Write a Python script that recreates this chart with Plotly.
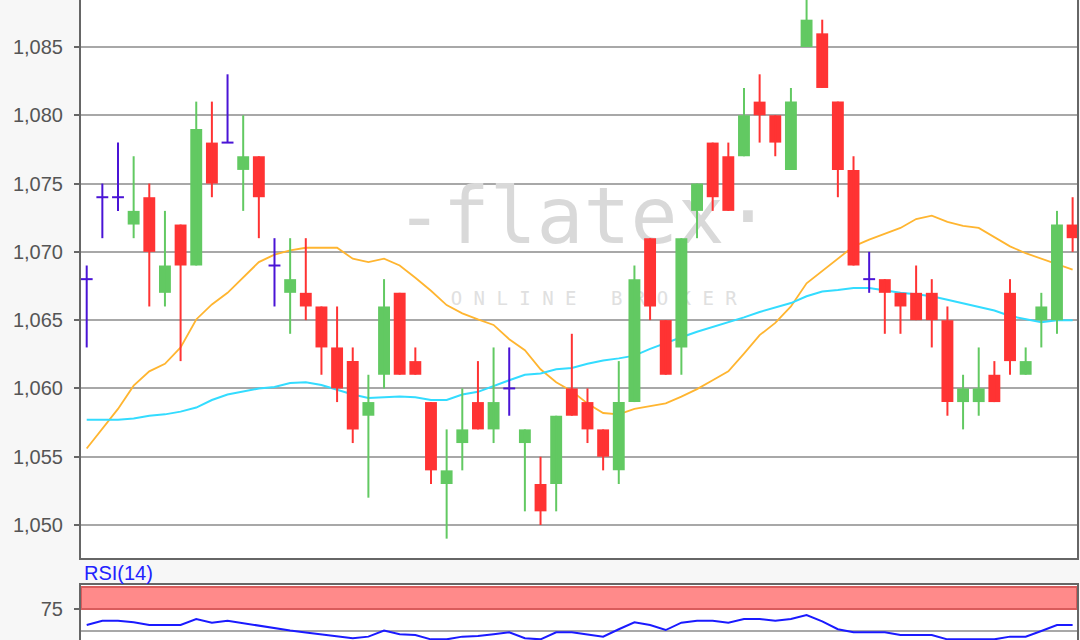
import plotly.graph_objects as go

# ---------------- data ----------------
opens  = [1.068, 1.074, 1.074, 1.072, 1.074, 1.067, 1.072, 1.069, 1.078, 1.078,
          1.076, 1.077, 1.069, 1.067, 1.067, 1.066, 1.063, 1.062, 1.058, 1.061,
          1.067, 1.062, 1.059, 1.053, 1.056, 1.059, 1.057, 1.060, 1.056, 1.053,
          1.053, 1.060, 1.059, 1.057, 1.054, 1.059, 1.071, 1.065, 1.063, 1.073,
          1.078, 1.077, 1.077, 1.081, 1.080, 1.076, 1.085, 1.086, 1.081, 1.076,
          1.068, 1.068, 1.067, 1.067, 1.067, 1.065, 1.059, 1.059, 1.061, 1.067,
          1.061, 1.065, 1.065, 1.072]
highs  = [1.069, 1.075, 1.078, 1.077, 1.075, 1.073, 1.072, 1.081, 1.081, 1.083,
          1.080, 1.077, 1.071, 1.071, 1.071, 1.066, 1.066, 1.063, 1.061, 1.068,
          1.067, 1.063, 1.059, 1.057, 1.060, 1.062, 1.063, 1.063, 1.057, 1.055,
          1.058, 1.064, 1.060, 1.057, 1.062, 1.069, 1.071, 1.065, 1.071, 1.075,
          1.078, 1.078, 1.082, 1.083, 1.080, 1.082, 1.089, 1.087, 1.081, 1.077,
          1.070, 1.068, 1.067, 1.069, 1.068, 1.066, 1.061, 1.063, 1.062, 1.068,
          1.063, 1.067, 1.073, 1.074]
lows   = [1.063, 1.071, 1.073, 1.071, 1.066, 1.066, 1.062, 1.069, 1.074, 1.078,
          1.073, 1.071, 1.066, 1.064, 1.065, 1.061, 1.059, 1.056, 1.052, 1.060,
          1.061, 1.061, 1.053, 1.049, 1.054, 1.057, 1.056, 1.058, 1.051, 1.050,
          1.051, 1.058, 1.056, 1.054, 1.053, 1.059, 1.065, 1.061, 1.061, 1.071,
          1.073, 1.073, 1.077, 1.078, 1.077, 1.076, 1.085, 1.082, 1.074, 1.069,
          1.067, 1.064, 1.064, 1.065, 1.063, 1.058, 1.057, 1.058, 1.059, 1.061,
          1.061, 1.063, 1.064, 1.070]
closes = [1.068, 1.074, 1.074, 1.073, 1.070, 1.069, 1.069, 1.079, 1.075, 1.078,
          1.077, 1.074, 1.069, 1.068, 1.066, 1.063, 1.060, 1.057, 1.059, 1.066,
          1.061, 1.061, 1.054, 1.054, 1.057, 1.057, 1.059, 1.060, 1.057, 1.051,
          1.058, 1.058, 1.057, 1.055, 1.059, 1.068, 1.066, 1.061, 1.071, 1.075,
          1.074, 1.073, 1.080, 1.080, 1.078, 1.081, 1.087, 1.082, 1.076, 1.069,
          1.068, 1.067, 1.066, 1.065, 1.065, 1.059, 1.060, 1.060, 1.059, 1.062,
          1.062, 1.066, 1.072, 1.071]

ma_fast = [1.05560, 1.05705, 1.05850, 1.06020, 1.06125, 1.06180, 1.06300, 1.06505, 1.06615, 1.06700,
           1.06810, 1.06925, 1.06980, 1.07010, 1.07030, 1.07030, 1.07030, 1.06950, 1.06925, 1.06950,
           1.06900, 1.06810, 1.06715, 1.06610, 1.06550, 1.06505, 1.06465, 1.06360, 1.06280, 1.06140,
           1.06045, 1.05980, 1.05890, 1.05820, 1.05810, 1.05850, 1.05870, 1.05890, 1.05940, 1.05995,
           1.06060, 1.06125, 1.06255, 1.06390, 1.06480, 1.06600, 1.06770, 1.06860, 1.06950, 1.07040,
           1.07090, 1.07135, 1.07175, 1.07240, 1.07265, 1.07220, 1.07190, 1.07175, 1.07110, 1.07040,
           1.06990, 1.06950, 1.06910, 1.06870]
ma_slow = [1.05770, 1.05770, 1.05770, 1.05780, 1.05800, 1.05810, 1.05830, 1.05860, 1.05915, 1.05955,
           1.05980, 1.06000, 1.06010, 1.06040, 1.06045, 1.06025, 1.05990, 1.05955, 1.05930, 1.05935,
           1.05940, 1.05935, 1.05915, 1.05915, 1.05955, 1.05975, 1.06020, 1.06060, 1.06100, 1.06110,
           1.06140, 1.06150, 1.06180, 1.06205, 1.06220, 1.06240, 1.06290, 1.06335, 1.06375, 1.06415,
           1.06450, 1.06480, 1.06520, 1.06560, 1.06590, 1.06625, 1.06675, 1.06710, 1.06720, 1.06735,
           1.06735, 1.06715, 1.06700, 1.06690, 1.06675, 1.06650, 1.06625, 1.06600, 1.06570, 1.06530,
           1.06505, 1.06485, 1.06500, 1.06500]
rsi = [56.8, 61.7, 61.7, 59.9, 56.8, 56.8, 56.8, 63.6, 59.5, 61.7,
       58.7, 55.8, 53.0, 50.5, 48.3, 46.1, 43.9, 41.7, 43.6, 50.4,
       46.2, 45.5, 40.5, 40.5, 43.6, 44.3, 46.4, 48.5, 41.7, 40.5,
       48.5, 48.5, 46.0, 43.6, 52.0, 59.9, 56.8, 51.1, 59.5, 61.7,
       61.7, 59.5, 63.6, 63.6, 61.7, 63.6, 68.2, 61.0, 52.0, 48.5,
       48.5, 48.5, 45.5, 45.5, 45.5, 40.5, 40.5, 40.5, 40.5, 43.6,
       43.6, 50.0, 56.8, 56.8]

price_ticks = [1.050, 1.055, 1.060, 1.065, 1.070, 1.075, 1.080, 1.085]
rsi_ticks = [75]
rsi_band = [75, 100]
rsi_mid = 50
rsi_label = "RSI(14)"
watermark_main = "-flatex·"
watermark_sub = "O N L I N E   B R O K E R"

# ---------------- styles ----------------
GREEN = "#62c962"
RED = "#ff3333"
BLUE = "#4a14d6"
ORANGE = "#ffb530"
CYAN = "#33dcff"
AXIS = "#666666"
GRID = "#a8a8a8"
TXT = "#555555"
BODY_W = 0.76

x = list(range(len(opens)))

fig = go.Figure()

# watermark (base subplot, below everything)
fig.add_trace(go.Scatter(x=[31.75], y=[1.0721], mode="text", text=[watermark_main],
                         textposition="middle center",
                         textfont=dict(family="DejaVu Sans Mono", size=78, color="#d9d9d9"),
                         hoverinfo="skip", showlegend=False))
fig.add_trace(go.Scatter(x=[32.4], y=[1.06645], mode="text", text=[watermark_sub],
                         textposition="middle center",
                         textfont=dict(family="DejaVu Sans Mono", size=19, color="#e0e0e0"),
                         hoverinfo="skip", showlegend=False))

# moving averages (base subplot, under the candles)
fig.add_trace(go.Scatter(x=x, y=ma_fast, mode="lines", line=dict(color=ORANGE, width=1.8),
                         hoverinfo="skip", showlegend=False))
fig.add_trace(go.Scatter(x=x, y=ma_slow, mode="lines", line=dict(color=CYAN, width=2),
                         hoverinfo="skip", showlegend=False))

# candles (overlay subplot above the lines)
groups = {"up": [], "down": [], "doji": []}
for i, o, c in zip(x, opens, closes):
    if c > o:
        groups["up"].append(i)
    elif c < o:
        groups["down"].append(i)
    else:
        groups["doji"].append(i)

for key, col in (("up", GREEN), ("down", RED)):
    idx = groups[key]
    fig.add_trace(go.Bar(x=idx,
                         y=[abs(closes[i] - opens[i]) for i in idx],
                         base=[min(opens[i], closes[i]) for i in idx],
                         width=BODY_W, marker=dict(color=col, line=dict(width=0)),
                         xaxis="x", yaxis="y3", hoverinfo="skip", showlegend=False))

for key, col in (("up", GREEN), ("down", RED), ("doji", BLUE)):
    xs, ys = [], []
    for i in groups[key]:
        xs += [i, i, None]
        ys += [lows[i], highs[i], None]
    fig.add_trace(go.Scatter(x=xs, y=ys, mode="lines", line=dict(color=col, width=2),
                             xaxis="x", yaxis="y3", hoverinfo="skip", showlegend=False))

xs, ys = [], []
for i in groups["doji"]:
    xs += [i - BODY_W / 2, i + BODY_W / 2, None]
    ys += [opens[i], opens[i], None]
fig.add_trace(go.Scatter(x=xs, y=ys, mode="lines", line=dict(color=BLUE, width=2),
                         xaxis="x", yaxis="y3", hoverinfo="skip", showlegend=False))

# RSI
fig.add_trace(go.Scatter(x=x, y=rsi, mode="lines", line=dict(color="#1a1aff", width=2),
                         xaxis="x2", yaxis="y2", hoverinfo="skip", showlegend=False))

XR = [-0.364, 63.28]
YR = [1.047583, 1.088441]
tickfont = dict(family="Liberation Sans, Arial, sans-serif", size=20, color=TXT)

fig.update_layout(
    width=1080, height=640,
    margin=dict(l=81, r=3, t=0, b=0),
    paper_bgcolor="#f7f7f7", plot_bgcolor="#ffffff",
    separators=",.",
    barmode="overlay",
    showlegend=False,
    hovermode=False,
    xaxis=dict(range=XR, domain=[0, 1], anchor="y", showgrid=False, zeroline=False,
               showticklabels=False, ticks="", showline=True, linecolor=AXIS, linewidth=2),
    yaxis=dict(range=YR, domain=[(640 - 558) / 640, 1], anchor="x", tickvals=price_ticks,
               tickformat=".3f", showgrid=True, gridcolor=GRID, gridwidth=2, zeroline=False,
               showline=True, mirror=True, linecolor=AXIS, linewidth=2,
               ticks="outside", ticklen=5, tickwidth=1.5, tickcolor=AXIS,
               tickfont=tickfont, ticklabelstandoff=7),
    yaxis3=dict(range=YR, overlaying="y", anchor="x", showgrid=False, zeroline=False,
                showticklabels=False, ticks="", showline=False),
    xaxis2=dict(range=XR, domain=[0, 1], anchor="y2", side="top", showgrid=False,
                zeroline=False, showticklabels=False, ticks="", showline=True,
                linecolor=AXIS, linewidth=2),
    yaxis2=dict(range=[39.77, 102.27], domain=[0, 55 / 640], anchor="x2", tickvals=rsi_ticks,
                showgrid=False, zeroline=False, showline=True, mirror=True,
                linecolor=AXIS, linewidth=2, ticks="outside", ticklen=5, tickwidth=1.5,
                tickcolor=AXIS, tickfont=tickfont, ticklabelstandoff=7),
    shapes=[
        dict(type="rect", xref="x2 domain", yref="y2", x0=0, x1=1,
             y0=rsi_band[0], y1=rsi_band[1], fillcolor="#ff8a8a",
             line=dict(color="#d95c5c", width=2), layer="below"),
        dict(type="line", xref="x2 domain", yref="y2", x0=0, x1=1,
             y0=rsi_mid, y1=rsi_mid, line=dict(color=GRID, width=2), layer="below"),
    ],
    annotations=[
        dict(text=rsi_label, xref="paper", yref="paper", x=0.001, y=(640 - 573) / 640,
             xanchor="left", yanchor="middle", showarrow=False,
             font=dict(family="Liberation Sans, Arial, sans-serif", size=20, color="#2222ff")),
    ],
)

fig.write_html("out.html", config={"displayModeBar": False},
               post_script="document.body.style.margin='0';document.body.style.padding='0';")
